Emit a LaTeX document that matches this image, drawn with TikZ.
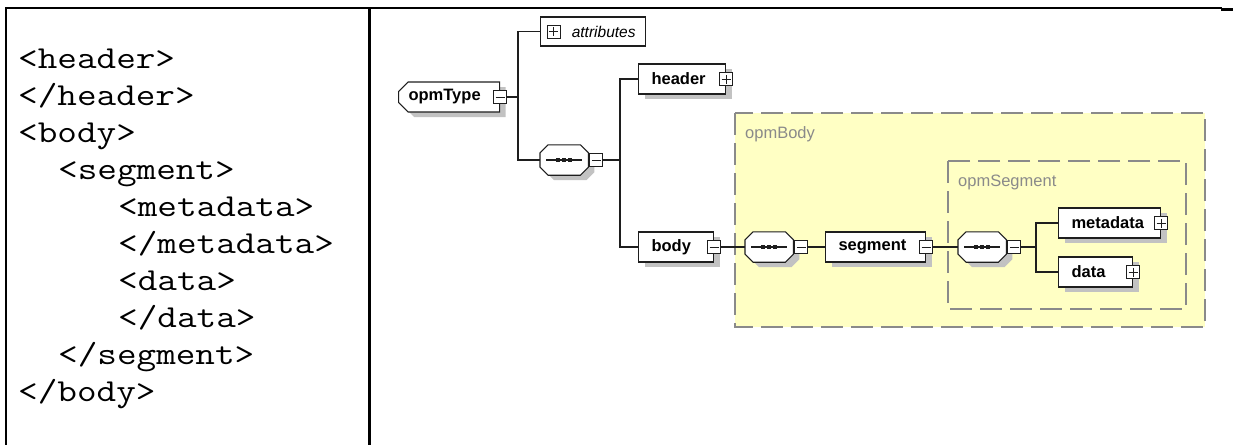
\documentclass[tikz,border=0pt]{standalone}
\usepackage{fontspec}
\setmainfont{Liberation Sans}
\usetikzlibrary{positioning,calc,shapes.misc,shadows}
\definecolor{cyel}{HTML}{FFFFC4}
\definecolor{cdash}{HTML}{8A8A8A}
\definecolor{cshade}{HTML}{C2C2C2}
\definecolor{cink}{HTML}{1E1E1E}

% octagon outline of a sequence compositor, from the anchors of an empty node
\newcommand{\seqpath}[1]{([xshift=8pt]#1.north west) -- ([xshift=-8pt]#1.north east)
  -- ([yshift=-8pt]#1.north east) -- ([yshift=8pt]#1.south east)
  -- ([xshift=-8pt]#1.south east) -- ([xshift=8pt]#1.south west)
  -- ([yshift=8pt]#1.south west) -- ([yshift=-8pt]#1.north west) -- cycle}
\newcommand{\seqshape}[1]{%
  \fill[cshade,transform canvas={xshift=6pt,yshift=-5pt}] \seqpath{#1};
  \filldraw[fill=white,draw=cink,line width=1.1pt] \seqpath{#1};
  \draw[cink,line width=1.1pt] ([xshift=-18pt]#1.center) -- ([xshift=18pt]#1.center);
  \foreach \d in {-6,0,6}
    \fill[cink] ([xshift=\d pt]#1.center) +(-2.2pt,-2.2pt) rectangle +(2.2pt,2.2pt);}
\newcommand{\xmltext}[1]{\scalebox{1.19}[1]{#1}}

\tikzset{
  shade/.style={drop shadow={shadow xshift=6pt,shadow yshift=-5pt,fill=cshade,opacity=1}},
  elem/.style={rectangle,draw=cink,line width=1.1pt,fill=white,shade,
    minimum height=30pt,inner xsep=13pt,inner ysep=0pt,align=left,anchor=west,
    font=\fontsize{16.5}{18}\selectfont\bfseries},
  seqbox/.style={rectangle,minimum width=48pt,minimum height=30pt,inner sep=0pt,anchor=west},
  expbox/.style={rectangle,draw=cink,line width=0.9pt,fill=white,minimum size=13pt,inner sep=0pt},
  expminus/.style={expbox,path picture={
      \draw[cink,line width=0.9pt] ([xshift=-4.5pt]path picture bounding box.center)
        -- ([xshift=4.5pt]path picture bounding box.center);}},
  expplus/.style={expbox,path picture={
      \draw[cink,line width=0.9pt] ([xshift=-4.5pt]path picture bounding box.center)
        -- ([xshift=4.5pt]path picture bounding box.center);
      \draw[cink,line width=0.9pt] ([yshift=-4.5pt]path picture bounding box.center)
        -- ([yshift=4.5pt]path picture bounding box.center);}},
  conn/.style={cink,line width=1.1pt},
  region/.style={draw=cdash,fill=cyel,line width=1.2pt,dash pattern=on 22pt off 8pt},
  regiontag/.style={text=cdash,anchor=base west,inner sep=0pt,font=\fontsize{16.5}{18}\selectfont},
  xmlline/.style={anchor=base west,inner sep=0pt,font=\fontsize{32}{37}\selectfont\ttfamily}
}

\begin{document}
\begin{tikzpicture}[x=1pt,y=-1pt]
  \useasboundingbox (0,0) rectangle (1233,445);
  % table frame
  \draw[line width=1.6pt] (5,8) -- (1222,8);
  \draw[line width=3pt] (1221,9) -- (1233,9);
  \draw[line width=2.2pt] (6.2,8) -- (6.2,445);
  \draw[line width=2.6pt] (369.7,8) -- (369.7,445);
  % xml listing
  \foreach \ind/\tag [count=\k from 0] in {0/{<header>},0/{</header>},0/{<body>},
      2/{<segment>},5/{<metadata>},5/{</metadata>},5/{<data>},5/{</data>},
      2/{</segment>},0/{</body>}}
    \node[xmlline] (xml\k) at ({18+20*\ind},{68+37.1*\k}) {\xmltext{\tag}};
  % type regions
  \draw[region] (735,113) rectangle (1205,327);
  \node[regiontag] (bodytag) at (745,138) {opmBody};
  \draw[region] (948,161) rectangle (1186,309);
  \node[regiontag] (segtag) at (958,186) {opmSegment};
  % elements
  \node[elem,chamfered rectangle,chamfered rectangle corners={north west,south west},
    chamfered rectangle xsep=6pt,inner xsep=4pt,text width=81pt] (opm) at (398,97) {opmType};
  \node[expminus] (opmx) at (opm.east) {};
  \node[rectangle,draw=cink,line width=1.1pt,fill=white,minimum height=29pt,inner ysep=0pt,
    inner xsep=10pt,text width=85pt,align=right,anchor=west,
    font=\fontsize{15.5}{17}\selectfont\itshape] (attr) at (540,31.5) {attributes};
  \node[expplus] (attrx) at ([xshift=13.5pt]attr.west) {};
  \node[seqbox] (sq1) at (540,160) {};
  \seqshape{sq1}
  \node[expminus,anchor=west] (sq1x) at ([xshift=1pt]sq1.east) {};
  \node[elem,text width=61pt] (hdr) at (638,79) {header};
  \node[expplus] (hdrx) at (hdr.east) {};
  \node[elem,text width=49pt] (bdy) at (638,247) {body};
  \node[expminus] (bdyx) at (bdy.east) {};
  \node[seqbox] (sq2) at (745,247) {};
  \seqshape{sq2}
  \node[expminus,anchor=west] (sq2x) at ([xshift=1pt]sq2.east) {};
  \node[elem,text width=74pt] (seg) at (825,247) {segment};
  \node[expminus] (segx) at (seg.east) {};
  \node[seqbox] (sq3) at (958,247) {};
  \seqshape{sq3}
  \node[expminus,anchor=west] (sq3x) at ([xshift=1pt]sq3.east) {};
  \node[elem,text width=76pt] (meta) at (1058,223) {metadata};
  \node[expplus] (metax) at (meta.east) {};
  \node[elem,text width=48pt] (dat) at (1058,272) {data};
  \node[expplus] (datx) at (dat.east) {};
  % connectors
  \coordinate (br0) at (518,0);
  \coordinate (br1) at (620,0);
  \coordinate (br2) at (1036,0);
  \draw[conn] (opmx.east) -- (opmx.east -| br0) |- (attr.west);
  \draw[conn] (opmx.east -| br0) |- (sq1.west);
  \draw[conn] (sq1x.east) -- (sq1x.east -| br1) |- (hdr.west);
  \draw[conn] (sq1x.east -| br1) |- (bdy.west);
  \draw[conn] (bdyx.east) -- (sq2.west);
  \draw[conn] (sq2x.east) -- (seg.west);
  \draw[conn] (segx.east) -- (sq3.west);
  \draw[conn] (sq3x.east) -- (sq3x.east -| br2) |- (meta.west);
  \draw[conn] (sq3x.east -| br2) |- (dat.west);
\end{tikzpicture}
\end{document}
